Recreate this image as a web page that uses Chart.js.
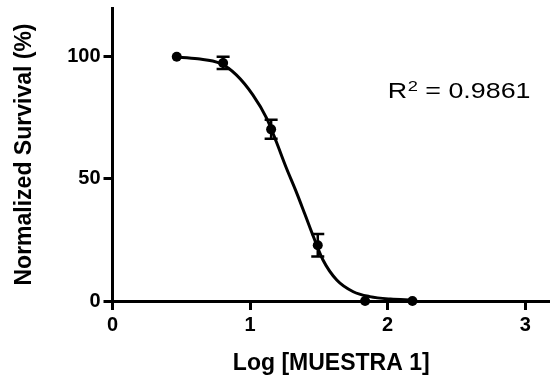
<!DOCTYPE html>
<html><head><meta charset="utf-8">
<script src="https://cdn.jsdelivr.net/npm/chart.js@4.4.1/dist/chart.umd.min.js"></script>
<style>html,body{margin:0;padding:0;background:#fff}</style>
</head><body>
<canvas id="c" width="550" height="378"></canvas>
<script>
// Measured points (log concentration vs normalized survival, mean ± SEM)
const logConc   = [0.467, 0.804, 1.153, 1.492, 1.836, 2.18];
const survival  = [100, 97.5, 70.3, 22.8, 0, 0];
const semValues = [0, 2.5, 3.9, 4.6, 0, 0];
// Fitted curve
const fitX = [0.45, 0.62, 0.78, 0.90, 1.02, 1.12, 1.19, 1.26, 1.34, 1.40, 1.46, 1.53, 1.63, 1.75, 1.87, 2.02, 2.18];
const fitY = [100, 99.2, 97.4, 92.6, 84.4, 74.9, 65.3, 55.0, 44.1, 35.3, 26.4, 16.8, 8.6, 3.8, 1.8, 0.8, 0.4];
const xTicks = [0, 1, 2, 3];
const yTicks = [0, 50, 100];
const xTitle = 'Log [MUESTRA 1]';
const yTitle = 'Normalized Survival (%)';
const r2Value = '0.9861';
const r2Anchor = [2.0, 83];

const FONT = '"Liberation Sans", Arial, Helvetica, sans-serif';

const errorBars = {
  id: 'errorBars',
  afterDatasetsDraw(chart) {
    const {ctx, scales: {x, y}} = chart;
    ctx.save();
    ctx.strokeStyle = '#000';
    ctx.lineWidth = 2.5;
    logConc.forEach((v, i) => {
      if (!semValues[i]) return;
      const px = x.getPixelForValue(v);
      const top = y.getPixelForValue(survival[i] + semValues[i]);
      const bot = y.getPixelForValue(survival[i] - semValues[i]);
      ctx.beginPath();
      ctx.moveTo(px, top); ctx.lineTo(px, bot);
      ctx.moveTo(px - 6.5, top); ctx.lineTo(px + 6.5, top);
      ctx.moveTo(px - 6.5, bot); ctx.lineTo(px + 6.5, bot);
      ctx.stroke();
    });
    ctx.restore();
  }
};

const r2Text = {
  id: 'r2Text',
  afterDraw(chart) {
    const {ctx, scales: {x, y}} = chart;
    const px = x.getPixelForValue(r2Anchor[0]);
    const py = y.getPixelForValue(r2Anchor[1]);
    ctx.save();
    ctx.translate(px, py);
    ctx.scale(1.22, 1);
    ctx.fillStyle = '#000';
    ctx.textBaseline = 'alphabetic';
    ctx.textAlign = 'left';
    ctx.font = '22px ' + FONT;
    ctx.fillText('R', 0, 0);
    let w = ctx.measureText('R').width + 0.5;
    ctx.font = '15px ' + FONT;
    ctx.fillText('2', w, -7);
    w += ctx.measureText('2').width;
    ctx.font = '22px ' + FONT;
    ctx.fillText(' = ' + r2Value, w, 0);
    ctx.restore();
  }
};

const noPad = s => { s.paddingLeft = 0; s.paddingRight = 0; s.paddingTop = 0; s.paddingBottom = 0; };

new Chart(document.getElementById('c'), {
  type: 'scatter',
  data: {
    datasets: [
      {
        type: 'line',
        data: fitX.map((v, i) => ({x: v, y: fitY[i]})),
        borderColor: '#000',
        borderWidth: 3,
        pointRadius: 0,
        cubicInterpolationMode: 'monotone',
        fill: false,
        clip: false
      },
      {
        data: logConc.map((v, i) => ({x: v, y: survival[i]})),
        backgroundColor: '#000',
        borderColor: '#000',
        pointRadius: 5,
        pointBorderWidth: 0,
        clip: false
      }
    ]
  },
  options: {
    responsive: false,
    animation: false,
    layout: {autoPadding: false, padding: {left: 0, right: 0, top: 8, bottom: 0}},
    plugins: {legend: {display: false}, tooltip: {enabled: false}},
    scales: {
      x: {
        type: 'linear', min: 0, max: 3.18,
        afterBuildTicks: s => { s.ticks = xTicks.map(v => ({value: v})); },
        afterFit: s => { s.height = 77; noPad(s); },
        border: {display: true, color: '#000', width: 3},
        grid: {display: true, drawOnChartArea: false, drawTicks: true, tickLength: 9, tickWidth: 3, tickColor: '#000'},
        ticks: {color: '#000', padding: 3, font: {family: FONT, size: 20, weight: 'bold'}, maxRotation: 0},
        title: {display: true, text: xTitle, color: '#000', font: {family: FONT, size: 23, weight: 'bold'}, padding: {top: 0, bottom: 1}}
      },
      y: {
        type: 'linear', min: 0, max: 120,
        afterBuildTicks: s => { s.ticks = yTicks.map(v => ({value: v})); },
        afterFit: s => { s.width = 112.5; noPad(s); },
        border: {display: true, color: '#000', width: 3},
        grid: {display: true, drawOnChartArea: false, drawTicks: true, tickLength: 9, tickWidth: 3, tickColor: '#000'},
        ticks: {color: '#000', padding: 3, font: {family: FONT, size: 20, weight: 'bold'}},
        title: {display: true, text: yTitle, color: '#000', font: {family: FONT, size: 23, weight: 'bold'}, padding: {top: 11, bottom: 0}}
      }
    }
  },
  plugins: [errorBars, r2Text]
});
</script>
</body></html>
